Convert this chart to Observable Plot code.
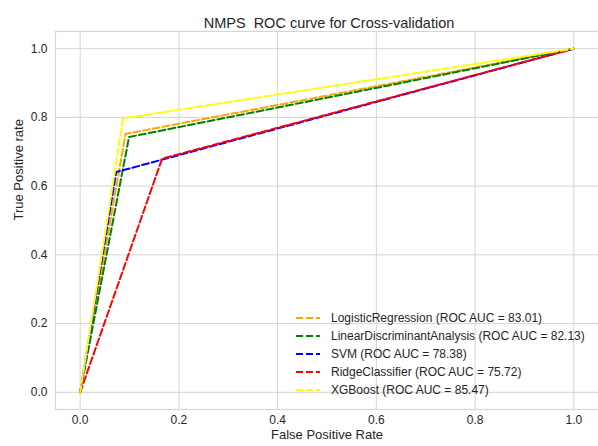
<!DOCTYPE html>
<html>
<head>
<meta charset="utf-8">
<script src="https://cdn.jsdelivr.net/npm/d3@7"></script>
<script src="https://cdn.jsdelivr.net/npm/@observablehq/plot@0.6"></script>
<style>
  html, body { margin: 0; padding: 0; background: white; }
  #wrap { position: relative; width: 598px; height: 446px; font-family: "Liberation Sans", Arial, sans-serif; }
  #legend { position: absolute; left: 296px; top: 309px; font-size: 12px; color: #262626; }
  #legend .row { display: flex; align-items: center; height: 18.1px; white-space: nowrap; }
  #legend svg { margin-right: 11px; }
</style>
</head>
<body>
<div id="wrap"></div>
<script>
const title = "NMPS  ROC curve for Cross-validation";
const xLabel = "False Positive Rate";
const yLabel = "True Positive rate";
const models = ["LogisticRegression", "LinearDiscriminantAnalysis", "SVM", "RidgeClassifier", "XGBoost"];
const colors = ["orange", "green", "blue", "red", "yellow"];
const aucs = ["83.01", "82.13", "78.38", "75.72", "85.47"];
const fprMid = [0.092, 0.099, 0.073, 0.166, 0.087];
const tprMid = [0.752, 0.743, 0.641, 0.680, 0.797];
const tickValues = [0, 0.2, 0.4, 0.6, 0.8, 1.0];

const rows = [];
models.forEach((m, i) => {
  const pts = [[0, 0], [fprMid[i], tprMid[i]], [1, 1]];
  pts.forEach(([f, t]) => rows.push({model: m, fpr: f, tpr: t, color: colors[i]}));
});

const gridColor = "#d5d5d5";
const chart = Plot.plot({
  width: 598, height: 446,
  marginLeft: 55, marginRight: 0, marginTop: 31, marginBottom: 37,
  style: {fontFamily: "'Liberation Sans', Arial, sans-serif", fontSize: "12px", color: "#262626", background: "white"},
  x: {domain: [-0.05, 1.05]},
  y: {domain: [-0.05, 1.05]},
  marks: [
    Plot.gridX(tickValues, {stroke: gridColor, strokeOpacity: 1, strokeWidth: 1}),
    Plot.gridY(tickValues, {stroke: gridColor, strokeOpacity: 1, strokeWidth: 1}),
    Plot.frame({stroke: gridColor, strokeWidth: 1.2}),
    Plot.axisX(tickValues, {tickSize: 0, tickPadding: 6, tickFormat: d3.format(".1f"), label: null, fontSize: 12}),
    Plot.axisY(tickValues, {tickSize: 0, tickPadding: 8, tickFormat: d3.format(".1f"), label: null, fontSize: 12}),
    Plot.line(rows, {x: "fpr", y: "tpr", z: "model", stroke: "color", strokeWidth: 2, strokeDasharray: "7,3"}),
    Plot.text([title], {frameAnchor: "top", dy: -14, dx: 2, fontSize: 14.5, fill: "#262626"}),
    Plot.text([xLabel], {frameAnchor: "bottom", dy: 29, fontSize: 13, fill: "#262626"}),
    Plot.text([yLabel], {frameAnchor: "left", dx: -37, rotate: -90, fontSize: 13, fill: "#262626"})
  ]
});
const wrap = document.getElementById("wrap");
wrap.appendChild(chart);

const legend = document.createElement("div");
legend.id = "legend";
models.forEach((m, i) => {
  const row = document.createElement("div");
  row.className = "row";
  row.innerHTML = `<svg width="24" height="6"><line x1="0" y1="3" x2="24" y2="3" stroke="${colors[i]}" stroke-width="2" stroke-dasharray="7,3"/></svg><span>${m} (ROC AUC = ${aucs[i]})</span>`;
  legend.appendChild(row);
});
wrap.appendChild(legend);
</script>
</body>
</html>
